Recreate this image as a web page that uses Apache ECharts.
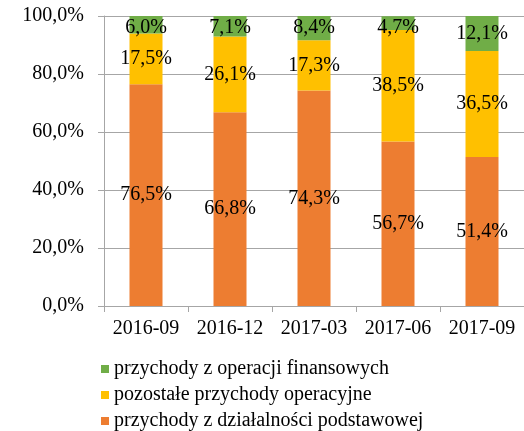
<!DOCTYPE html>
<html>
<head>
<meta charset="utf-8">
<script src="https://cdn.jsdelivr.net/npm/echarts@6/dist/echarts.min.js"></script>
<style>
  html, body { margin: 0; padding: 0; background: #fff; }
  #chart { width: 524px; height: 431px; }
</style>
</head>
<body>
<div id="chart"></div>
<script>
// Quarterly revenue structure (percent shares)
const categories = ['2016-09', '2016-12', '2017-03', '2017-06', '2017-09'];
const coreRevenue = [76.5, 66.8, 74.3, 56.7, 51.4];      // przychody z działalności podstawowej
const otherOperating = [17.5, 26.1, 17.3, 38.5, 36.5];   // pozostałe przychody operacyjne
const financialRevenue = [6.0, 7.1, 8.4, 4.7, 12.1];     // przychody z operacji finansowych
const yTicks = [0, 20, 40, 60, 80, 100];

const seriesNames = [
  'przychody z działalności podstawowej',
  'pozostałe przychody operacyjne',
  'przychody z operacji finansowych'
];
const colors = ['#ED7D31', '#FFC000', '#70AD47'];
const FONT = 'Liberation Serif';

const fmt = v => v.toFixed(1).replace('.', ',') + '%';

function makeSeries(name, values, color) {
  return {
    name: name,
    type: 'bar',
    stack: 'total',
    barWidth: 33,
    data: values,
    itemStyle: { color: color },
    label: {
      show: true,
      position: 'inside',
      color: '#000',
      fontFamily: FONT,
      fontSize: 20,
      formatter: p => fmt(p.value)
    },
    labelLayout: function (p) {
      // keep labels of thin top segments below the plot's top edge
      const top = 18;
      if (p.labelRect.y < top) {
        return { dy: top - p.labelRect.y };
      }
      return {};
    }
  };
}

const chart = echarts.init(document.getElementById('chart'));
chart.setOption({
  animation: false,
  color: colors,
  grid: { left: 104, right: -4, top: 16, bottom: 125, containLabel: false },
  legend: {
    orient: 'vertical',
    left: 96,
    top: 354,
    width: 420,
    height: 120,
    icon: 'rect',
    itemWidth: 8,
    itemHeight: 8,
    itemGap: 6,
    data: [seriesNames[2], seriesNames[1], seriesNames[0]],
    textStyle: { fontFamily: FONT, fontSize: 20, lineHeight: 18, color: '#000' }
  },
  xAxis: {
    type: 'category',
    data: categories,
    axisLine: { lineStyle: { color: '#a6a6a6', width: 1 } },
    axisTick: { show: true, length: 6, alignWithLabel: false, lineStyle: { color: '#a6a6a6' } },
    axisLabel: { interval: 0, fontFamily: FONT, fontSize: 20, color: '#000', margin: 13 }
  },
  yAxis: {
    type: 'value',
    min: yTicks[0],
    max: yTicks[yTicks.length - 1],
    interval: yTicks[1] - yTicks[0],
    axisLine: { show: true, lineStyle: { color: '#a6a6a6', width: 1 } },
    axisTick: { show: true, length: 6, lineStyle: { color: '#a6a6a6' } },
    splitLine: { lineStyle: { color: '#a6a6a6', width: 1 } },
    axisLabel: {
      fontFamily: FONT, fontSize: 20, color: '#000', margin: 20,
      formatter: v => fmt(v)
    }
  },
  series: [
    makeSeries(seriesNames[0], coreRevenue, colors[0]),
    makeSeries(seriesNames[1], otherOperating, colors[1]),
    makeSeries(seriesNames[2], financialRevenue, colors[2])
  ]
});
</script>
</body>
</html>
